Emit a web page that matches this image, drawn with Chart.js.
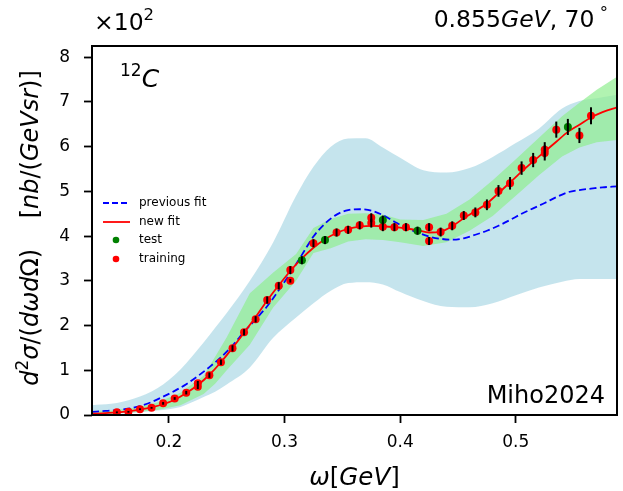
<!DOCTYPE html>
<html><head><meta charset="utf-8">
<script src="https://cdn.jsdelivr.net/npm/chart.js@4.4.1/dist/chart.umd.min.js"></script>
<style>html,body{margin:0;padding:0;background:#fff;}#wrap{width:623px;height:491px;}</style>
</head><body><div id="wrap"><canvas id="c" width="623" height="491"></canvas></div>
<script>
// ---------- data ----------
const xTicks = [0.2, 0.3, 0.4, 0.5];
const yTicks = [0, 1, 2, 3, 4, 5, 6, 7, 8];

const curveOmega = [0.1335,0.145,0.155,0.165,0.175,0.185,0.195,0.205,0.215,0.225,0.235,0.245,0.255,0.265,0.275,0.285,0.295,0.305,0.315,0.325,0.335,0.345,0.355,0.365,0.375,0.385,0.395,0.405,0.415,0.425,0.435,0.445,0.455,0.465,0.475,0.485,0.495,0.505,0.515,0.525,0.535,0.545,0.555,0.565,0.575,0.5875];
const newFit = [0.03,0.04,0.06,0.08,0.12,0.17,0.24,0.34,0.49,0.67,0.90,1.18,1.50,1.84,2.19,2.56,2.90,3.22,3.50,3.74,3.93,4.07,4.16,4.21,4.23,4.22,4.20,4.17,4.13,4.08,4.10,4.22,4.40,4.56,4.73,4.96,5.20,5.44,5.67,5.89,6.11,6.33,6.49,6.65,6.77,6.88];
const previousFit = [0.07,0.09,0.11,0.14,0.20,0.29,0.41,0.54,0.69,0.87,1.07,1.29,1.55,1.86,2.14,2.43,2.79,3.17,3.58,3.99,4.28,4.48,4.58,4.60,4.57,4.47,4.32,4.19,4.08,3.99,3.94,3.92,3.95,4.03,4.12,4.23,4.36,4.50,4.62,4.74,4.87,4.98,5.03,5.06,5.09,5.11];

const bandOmega = [0.1335,0.15,0.17,0.19,0.21,0.23,0.24,0.25,0.27,0.29,0.31,0.325,0.34,0.355,0.37,0.385,0.40,0.42,0.44,0.46,0.48,0.50,0.52,0.54,0.555,0.57,0.5875];
const prevBandUpper = [0.22,0.25,0.37,0.60,1.02,1.62,1.95,2.28,3.00,3.85,4.90,5.55,6.00,6.18,6.19,5.98,5.75,5.47,5.42,5.52,5.77,6.08,6.40,6.85,7.02,7.08,7.16];
const prevBandLower = [0.01,0.02,0.05,0.10,0.18,0.40,0.52,0.68,1.06,1.72,2.18,2.50,2.78,2.95,2.97,2.92,2.75,2.55,2.42,2.41,2.50,2.68,2.85,2.98,3.04,3.04,3.04];
const newBandUpper = [0.09,0.10,0.16,0.28,0.50,0.88,1.30,1.74,2.72,3.18,3.60,4.18,4.38,4.50,4.51,4.48,4.37,4.36,4.50,4.82,5.25,5.72,6.20,6.68,6.98,7.27,7.56];
const newBandLower = [0.02,0.03,0.06,0.11,0.22,0.47,0.70,1.00,1.57,2.40,3.00,3.62,3.73,3.88,3.93,3.91,3.86,3.78,3.86,4.12,4.45,4.90,5.36,5.78,5.98,6.10,6.15];

const trainOmega = [0.155,0.165,0.175,0.185,0.195,0.205,0.215,0.225,0.225,0.235,0.245,0.255,0.265,0.275,0.285,0.295,0.305,0.305,0.325,0.345,0.355,0.365,0.375,0.375,0.385,0.395,0.405,0.425,0.425,0.435,0.445,0.455,0.465,0.475,0.485,0.495,0.505,0.515,0.525,0.525,0.535,0.555,0.565];
const trainValue = [0.06,0.07,0.13,0.16,0.26,0.37,0.50,0.71,0.63,0.89,1.18,1.49,1.85,2.14,2.57,2.89,3.24,3.00,3.84,4.08,4.14,4.24,4.41,4.29,4.21,4.20,4.20,4.20,3.89,4.09,4.23,4.46,4.53,4.70,5.01,5.18,5.52,5.70,5.93,5.86,6.38,6.25,6.69];
const trainError = [0.02,0.02,0.02,0.02,0.03,0.03,0.04,0.05,0.05,0.06,0.06,0.07,0.07,0.07,0.08,0.08,0.09,0.04,0.09,0.09,0.09,0.09,0.10,0.10,0.10,0.09,0.09,0.09,0.09,0.10,0.10,0.10,0.11,0.12,0.13,0.14,0.15,0.16,0.17,0.17,0.18,0.17,0.19];
const testOmega = [0.315,0.335,0.385,0.415,0.545];
const testValue = [3.46,3.91,4.36,4.12,6.44];
const testError = [0.09,0.09,0.10,0.09,0.18];

// ---------- helpers ----------
const FAM = '"DejaVu Sans", sans-serif';
const pts = (xs, ys) => xs.map((x, i) => ({x: x, y: ys[i]}));
const errPts = (xs, ys, es) => xs.map((x, i) => ({x: x, y: ys[i], e: es[i]}));

function drawRuns(ctx, parts, x, y, align) {
  let total = 0;
  parts.forEach(p => { ctx.font = p[1]; total += ctx.measureText(p[0]).width; });
  let cx = align === 'right' ? x - total : align === 'center' ? x - total / 2 : x;
  ctx.textAlign = 'left';
  ctx.textBaseline = 'alphabetic';
  parts.forEach(p => {
    ctx.font = p[1];
    ctx.fillText(p[0], cx, y + (p[2] || 0));
    cx += ctx.measureText(p[0]).width;
  });
}

const decor = {
  id: 'decor',
  afterDatasetsDraw(chart) {
    const ctx = chart.ctx, xs = chart.scales.x, ys = chart.scales.y;
    ctx.save();
    ctx.strokeStyle = '#000';
    ctx.lineWidth = 2;
    [errPts(trainOmega, trainValue, trainError), errPts(testOmega, testValue, testError)].forEach(set => {
      set.forEach(p => {
        const px = xs.getPixelForValue(p.x);
        ctx.beginPath();
        ctx.moveTo(px, ys.getPixelForValue(p.y - p.e));
        ctx.lineTo(px, ys.getPixelForValue(p.y + p.e));
        ctx.stroke();
      });
    });
    ctx.restore();
  },
  afterDraw(chart) {
    const ctx = chart.ctx, a = chart.chartArea;
    ctx.save();
    ctx.strokeStyle = '#000';
    ctx.lineWidth = 2;
    ctx.strokeRect(a.left, a.top, a.right - a.left, a.bottom - a.top);
    ctx.fillStyle = '#000';
    const n = s => 'normal ' + s + 'px ' + FAM;
    const it = s => 'italic ' + s + 'px ' + FAM;
    drawRuns(ctx, [['\u00d710', n(23.5)], ['2', n(16.5), -10]], 94, 30, 'left');
    drawRuns(ctx, [['0.855', n(23.5)], ['GeV', it(23.5)], [', 70', n(23.5)], [' \u00b0', n(16.5), -9]], 608, 27, 'right');
    drawRuns(ctx, [['12', n(17), -11], ['C', it(25)]], 120, 87, 'left');
    drawRuns(ctx, [['Miho2024', n(24)]], 605, 403, 'right');
    drawRuns(ctx, [['\u03c9', it(24.5)], ['[', n(24.5)], ['GeV', it(24.5)], [']', n(24.5)]], (a.left + a.right) / 2, 485, 'center');
    ctx.save();
    ctx.translate(38, 228);
    ctx.rotate(-Math.PI / 2);
    drawRuns(ctx, [['d', it(24)], ['2', n(17), -10], ['\u03c3', it(24)], ['/(', n(24)], ['d\u03c9d', it(24)], ['\u03a9', n(24)], [')', n(24)],
      ['    [', n(24)], ['nb', it(24)], ['/(', n(24)], ['GeVsr', it(24)], [')]', n(24)]], 0, 0, 'center');
    ctx.restore();
    const rows = [203, 222, 240, 259];
    ctx.lineWidth = 1.8;
    ctx.strokeStyle = '#0000ff';
    ctx.setLineDash([6, 3]);
    ctx.beginPath(); ctx.moveTo(103, rows[0]); ctx.lineTo(130, rows[0]); ctx.stroke();
    ctx.setLineDash([]);
    ctx.strokeStyle = '#ff0000';
    ctx.beginPath(); ctx.moveTo(103, rows[1]); ctx.lineTo(130, rows[1]); ctx.stroke();
    ctx.fillStyle = '#008000';
    ctx.beginPath(); ctx.arc(116, rows[2], 3.3, 0, 2 * Math.PI); ctx.fill();
    ctx.fillStyle = '#ff0000';
    ctx.beginPath(); ctx.arc(116, rows[3], 3.3, 0, 2 * Math.PI); ctx.fill();
    ctx.fillStyle = '#000';
    ctx.font = n(12);
    ctx.textBaseline = 'middle';
    ctx.textAlign = 'left';
    ['previous fit', 'new fit', 'test', 'training'].forEach((t, i) => ctx.fillText(t, 139, rows[i]));
    ctx.restore();
  }
};

const bandStyle = {borderWidth: 0, borderColor: 'rgba(0,0,0,0)', pointRadius: 0, tension: 0};

new Chart(document.getElementById('c'), {
  type: 'scatter',
  data: {
    datasets: [
      {label: 'previous fit band', data: pts(bandOmega, prevBandUpper), ...bandStyle, showLine: true, fill: '+1', backgroundColor: 'rgba(173,216,230,0.7)', cubicInterpolationMode: 'monotone', order: 6},
      {label: 'previous fit band lower', data: pts(bandOmega, prevBandLower), ...bandStyle, showLine: true, fill: false, cubicInterpolationMode: 'monotone', order: 6},
      {label: 'new fit band', data: pts(bandOmega, newBandUpper), ...bandStyle, showLine: true, fill: '+1', backgroundColor: 'rgba(144,238,144,0.7)', order: 5},
      {label: 'new fit band lower', data: pts(bandOmega, newBandLower), ...bandStyle, showLine: true, fill: false, order: 5},
      {label: 'previous fit', data: pts(curveOmega, previousFit), showLine: true, borderColor: '#0000ff', borderWidth: 1.8, borderDash: [7, 3.5], pointRadius: 0, fill: false, cubicInterpolationMode: 'monotone', order: 3},
      {label: 'new fit', data: pts(curveOmega, newFit), showLine: true, borderColor: '#ff0000', borderWidth: 1.8, pointRadius: 0, fill: false, cubicInterpolationMode: 'monotone', order: 2},
      {label: 'test', data: pts(testOmega, testValue), showLine: false, pointRadius: 4, pointBorderWidth: 0, backgroundColor: '#008000', pointBackgroundColor: '#008000', order: 1},
      {label: 'training', data: pts(trainOmega, trainValue), showLine: false, pointRadius: 4, pointBorderWidth: 0, backgroundColor: '#ff0000', pointBackgroundColor: '#ff0000', order: 1}
    ]
  },
  options: {
    responsive: false,
    animation: false,
    devicePixelRatio: 1,
    layout: {padding: {left: 0, right: 6, top: 46, bottom: 0}},
    plugins: {legend: {display: false}, tooltip: {enabled: false}, filler: {propagate: false}},
    scales: {
      x: {
        type: 'linear', min: 0.1335, max: 0.5875,
        afterBuildTicks: s => { s.ticks = xTicks.map(v => ({value: v})); },
        afterFit: s => { s.height = 76; },
        ticks: {font: {family: FAM, size: 17}, color: '#000', padding: 9, maxRotation: 0, autoSkip: false, callback: v => Number(v).toFixed(1)},
        grid: {drawOnChartArea: false, tickLength: 8, tickWidth: 1.8, tickColor: '#000'},
        border: {display: false}
      },
      y: {
        type: 'linear', min: 0, max: 8.25,
        afterBuildTicks: s => { s.ticks = yTicks.map(v => ({value: v})); },
        afterFit: s => { s.width = 92; },
        ticks: {font: {family: FAM, size: 17}, color: '#000', padding: 14, autoSkip: false, callback: v => String(Math.round(v))},
        grid: {drawOnChartArea: false, tickLength: 8, tickWidth: 1.8, tickColor: '#000'},
        border: {display: false}
      }
    }
  },
  plugins: [decor]
});
</script></body></html>
